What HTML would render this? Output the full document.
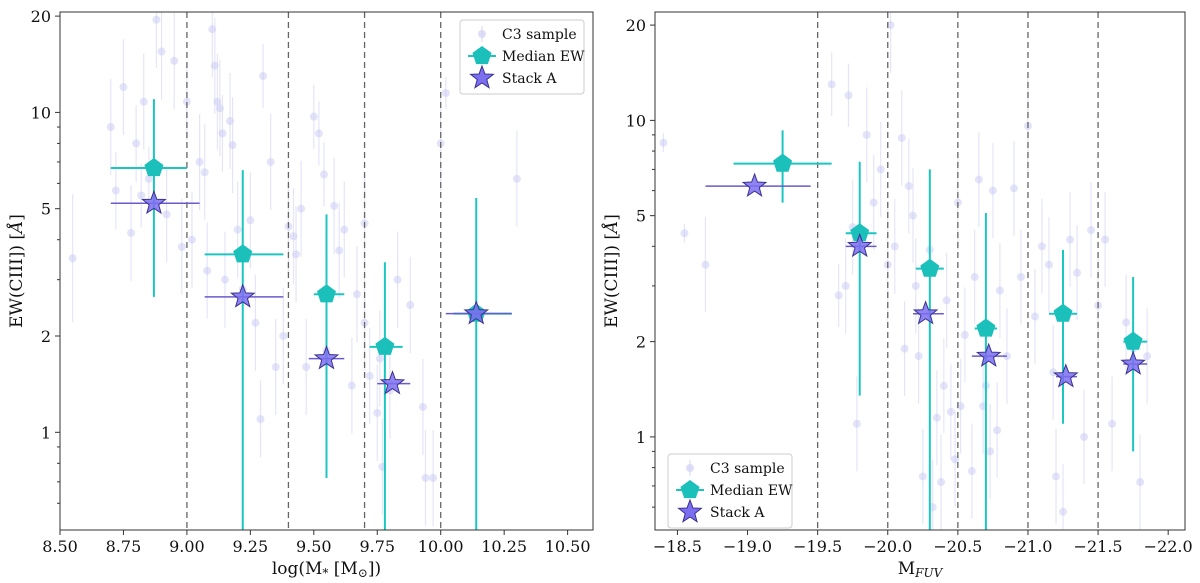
<!DOCTYPE html>
<html><head><meta charset="utf-8"><style>
body{margin:0;background:#fff;}
svg{display:block;font-family:"DejaVu Serif","Liberation Serif",serif;}
</style></head><body>
<svg id="chart" width="1200" height="583" viewBox="0 0 1200 583" xmlns="http://www.w3.org/2000/svg"></svg>
<script>
// ---- data ----
const leftSampleX=[8.55,8.7,8.72,8.75,8.78,8.8,8.82,8.83,8.85,8.88,8.9,8.92,8.95,8.98,9.0,9.02,9.05,9.07,9.08,9.1,9.11,9.12,9.13,9.14,9.15,9.17,9.18,9.2,9.22,9.25,9.27,9.29,9.3,9.33,9.35,9.38,9.4,9.42,9.43,9.45,9.47,9.5,9.52,9.54,9.55,9.58,9.6,9.62,9.65,9.67,9.7,9.7,9.72,9.75,9.76,9.77,9.8,9.83,9.88,9.93,9.94,9.97,10.0,10.02,10.3];
const leftSampleY=[3.5,9.0,5.7,12,4.2,8.0,5.5,10.8,6.2,19.5,15.5,4.8,14.5,3.8,10.8,4.0,7.0,6.5,3.2,18.2,14,10.8,10.3,8.6,3.0,9.4,7.9,4.3,2.8,4.6,2.2,1.1,13,7.0,1.6,2.0,4.4,4.1,3.6,5.0,1.6,9.7,8.6,6.4,1.8,5.1,3.7,4.3,1.4,2.7,2.2,4.5,1.5,1.15,1.7,0.78,1.35,3.0,2.5,1.2,0.72,0.72,8.0,11.5,6.2];
const leftSampleErr=[0.2,0.15,0.12,0.15,0.15,0.12,0.1,0.15,0.1,0.15,0.15,0.15,0.15,0.15,0.12,0.15,0.15,0.15,0.15,0.15,0.15,0.15,0.15,0.12,0.15,0.15,0.15,0.15,0.15,0.15,0.15,0.12,0.1,0.15,0.15,0.15,0.15,0.15,0.15,0.15,0.15,0.1,0.1,0.1,0.15,0.15,0.15,0.15,0.15,0.15,0.15,0.15,0.15,0.15,0.15,0.15,0.15,0.15,0.15,0.15,0.15,0.15,0.15,0.05,0.15];
const leftMedX=[8.87,9.22,9.55,9.78,10.14];
const leftMedY=[6.7,3.6,2.7,1.85,2.35];
const leftMedXLo=[8.7,9.07,9.5,9.72,10.05], leftMedXHi=[9.0,9.38,9.62,9.85,10.28];
const leftMedYLo=[2.65,0.3,0.72,0.3,0.3], leftMedYHi=[11,6.6,4.8,3.4,5.4];
const leftStkX=[8.87,9.22,9.55,9.81,10.14];
const leftStkY=[5.2,2.65,1.7,1.42,2.35];
const leftStkXLo=[8.7,9.07,9.48,9.75,10.02], leftStkXHi=[9.05,9.38,9.62,9.88,10.28];

const rightSampleX=[-18.4,-18.55,-18.7,-19.6,-19.65,-19.7,-19.72,-19.75,-19.78,-19.85,-19.9,-19.95,-20.0,-20.02,-20.05,-20.1,-20.12,-20.15,-20.18,-20.2,-20.22,-20.25,-20.3,-20.32,-20.35,-20.38,-20.4,-20.42,-20.45,-20.48,-20.5,-20.52,-20.55,-20.6,-20.62,-20.65,-20.68,-20.7,-20.73,-20.75,-20.78,-20.8,-20.85,-20.9,-20.95,-21.0,-21.05,-21.1,-21.15,-21.18,-21.2,-21.25,-21.3,-21.35,-21.4,-21.45,-21.5,-21.55,-21.6,-21.7,-21.75,-21.8,-21.85];
const rightSampleY=[8.5,4.4,3.5,13,2.8,3.0,12,4.6,1.1,9.0,5.5,7.0,3.5,20,4.0,8.8,1.9,6.2,5.0,3.0,1.8,0.75,3.9,0.6,1.15,0.72,1.45,2.7,1.2,0.85,5.5,1.25,2.1,0.78,3.2,6.5,1.25,1.45,0.9,6.0,1.05,2.9,1.8,6.1,3.2,9.6,2.4,4.0,3.5,1.6,0.75,0.58,4.2,3.3,1.0,4.5,2.6,4.2,1.1,2.3,1.9,0.72,1.8];
const rightSampleErr=[0.03,0.03,0.15,0.1,0.1,0.15,0.1,0.15,0.15,0.15,0.15,0.15,0.2,0.15,0.15,0.15,0.15,0.15,0.15,0.15,0.15,0.15,0.15,0.15,0.15,0.15,0.15,0.15,0.15,0.15,0.15,0.15,0.15,0.15,0.15,0.15,0.15,0.15,0.15,0.15,0.15,0.15,0.15,0.15,0.15,0.15,0.15,0.15,0.15,0.15,0.15,0.15,0.15,0.15,0.15,0.15,0.15,0.15,0.15,0.15,0.15,0.15,0.15];
const rightMedX=[-19.25,-19.8,-20.3,-20.7,-21.25,-21.75];
const rightMedY=[7.3,4.4,3.4,2.2,2.45,2.0];
const rightMedXLo=[-18.9,-19.7,-20.2,-20.62,-21.15,-21.68], rightMedXHi=[-19.6,-19.92,-20.4,-20.78,-21.35,-21.85];
const rightMedYLo=[5.5,1.35,0.3,0.3,1.1,0.9], rightMedYHi=[9.3,7.4,7.0,5.1,3.9,3.2];
const rightStkX=[-19.05,-19.8,-20.27,-20.72,-21.27,-21.75];
const rightStkY=[6.2,4.0,2.45,1.8,1.55,1.7];
const rightStkXLo=[-18.7,-19.7,-20.18,-20.6,-21.2,-21.68], rightStkXHi=[-19.45,-19.92,-20.4,-20.85,-21.35,-21.85];

const leftXTicks=[8.5,8.75,9.0,9.25,9.5,9.75,10.0,10.25,10.5];
const leftXTickLabels=["8.50","8.75","9.00","9.25","9.50","9.75","10.00","10.25","10.50"];
const rightXTicks=[-18.5,-19,-19.5,-20,-20.5,-21,-21.5,-22];
const rightXTickLabels=["\u221218.5","\u221219.0","\u221219.5","\u221220.0","\u221220.5","\u221221.0","\u221221.5","\u221222.0"];
const yTicks=[1,2,5,10,20];
const yTickLabels=["1","2","5","10","20"];
const yMinor=[0.6,0.7,0.8,0.9,3,4,6,7,8,9];
const leftVlines=[9.0,9.4,9.7,10.0];
const rightVlines=[-19.5,-20,-20.5,-21,-21.5];

const NS="http://www.w3.org/2000/svg";
const svg=document.getElementById('chart');
function mk(tag,attrs,parent){const e=document.createElementNS(NS,tag);for(const k in attrs)e.setAttribute(k,attrs[k]);(parent||svg).appendChild(e);return e;}

function panel(cfg){
  const g=mk('g',{});
  
  
  const X=v=>cfg.x0+(v-cfg.xmin)/(cfg.xmax-cfg.xmin)*(cfg.x1-cfg.x0);
  const Y=v=>cfg.yb-(Math.log10(v)-Math.log10(cfg.ymin))/(Math.log10(cfg.ymax)-Math.log10(cfg.ymin))*(cfg.yb-cfg.yt);
  const cy=v=>Math.max(cfg.yt,Math.min(cfg.yb,Y(v)));
  cfg.sx.forEach((x,i)=>{
    const y=cfg.sy[i],e=cfg.se[i];
    const l=mk('line',{x1:X(x),x2:X(x),y1:cy(y*Math.pow(10,e)),y2:cy(y/Math.pow(10,e)),stroke:'#d4d4f4','stroke-width':1.2,opacity:0.6},g);
    
    
    if(Y(y)>=cfg.yt&&Y(y)<=cfg.yb){
      const c=mk('circle',{cx:X(x),cy:Y(y),r:4,fill:'#c8c8f4',opacity:0.5},g);
      
      
    }
  });
  cfg.vl.forEach(v=>{
    const l=mk('line',{x1:X(v),x2:X(v),y1:cfg.yt,y2:cfg.yb,stroke:'#666','stroke-width':1.3,'stroke-dasharray':'6,4'},g);
    
    
  });
  cfg.mx.forEach((x,i)=>{
    const y=cfg.my[i];
    const a=mk('line',{x1:X(cfg.mxl[i]),x2:X(cfg.mxh[i]),y1:Y(y),y2:Y(y),stroke:'#1cc6c0','stroke-width':2},g);
    
    
    const b=mk('line',{x1:X(x),x2:X(x),y1:cy(cfg.myh[i]),y2:cy(cfg.myl[i]),stroke:'#1cc6c0','stroke-width':2},g);
    
    
    const px=X(x),py=Y(y),r=10;let pts=[];
    for(let k=0;k<5;k++){const t=-Math.PI/2+k*2*Math.PI/5;pts.push((px+r*Math.cos(t)).toFixed(1)+','+(py+r*Math.sin(t)).toFixed(1));}
    const p=mk('polygon',{points:pts.join(' '),fill:'#1cc0bb'},g);
    
    
  });
  cfg.kx.forEach((x,i)=>{
    const y=cfg.ky[i];
    const a=mk('line',{x1:X(cfg.kxl[i]),x2:X(cfg.kxh[i]),y1:Y(y),y2:Y(y),stroke:'#6a5acd','stroke-width':1.5},g);
    
    
    const px=X(x),py=Y(y);let pts=[];
    for(let k=0;k<10;k++){const t=-Math.PI/2+k*Math.PI/5;const r=k%2?5:12;pts.push((px+r*Math.cos(t)).toFixed(1)+','+(py+r*Math.sin(t)).toFixed(1));}
    const p=mk('polygon',{points:pts.join(' '),fill:'#7b6ff0','fill-opacity':0.85,stroke:'#3a3290','stroke-width':1},g);
    
    
  });
  const f=mk('rect',{x:cfg.x0,y:cfg.yt,width:cfg.x1-cfg.x0,height:cfg.yb-cfg.yt,fill:'none',stroke:'#333','stroke-width':1},g);
  
  
  cfg.xt.forEach((v,i)=>{
    mk('line',{x1:X(v),x2:X(v),y1:cfg.yb,y2:cfg.yb+5,stroke:'#333'},g);
    const t=mk('text',{x:X(v),y:cfg.yb+22,'text-anchor':'middle','font-size':16,fill:'#111'},g);
    t.textContent=cfg.xtl[i];
    
    
  });
  yTicks.forEach((v,i)=>{
    if(Y(v)<cfg.yt-1)return;
    mk('line',{x1:cfg.x0-5,x2:cfg.x0,y1:Y(v),y2:Y(v),stroke:'#333'},g);
    const t=mk('text',{x:cfg.x0-9,y:Y(v)+6,'text-anchor':'end','font-size':16,fill:'#111'},g);
    t.textContent=yTickLabels[i];
    
    
  });
  yMinor.forEach(v=>{if(Y(v)>cfg.yt&&Y(v)<cfg.yb)mk('line',{x1:cfg.x0-3,x2:cfg.x0,y1:Y(v),y2:Y(v),stroke:'#333'},g);});
  const xt=mk('text',{x:(cfg.x0+cfg.x1)/2,y:cfg.yb+44,'text-anchor':'middle','font-size':17,fill:'#111'},g);
  xt.innerHTML=cfg.xtitle;
  
  
  const yt=mk('text',{x:0,y:0,'text-anchor':'middle','font-size':17,fill:'#111',transform:`translate(${cfg.x0-38},${(cfg.yt+cfg.yb)/2}) rotate(-90)`},g);
  yt.innerHTML='EW(CIII]) [<tspan font-style="italic">Å</tspan>]';
  
  
  const L=cfg.leg;
  const lg=mk('g',{},g);
  
  
  mk('rect',{x:L.x,y:L.y,width:124,height:74,rx:3,fill:'#fff',stroke:'#ccc'},lg);
  const labs=['C3 sample','Median EW','Stack A'];
  labs.forEach((s,i)=>{
    const yy=L.y+14+i*22, mx=L.x+22;
    if(i==0){mk('circle',{cx:mx,cy:yy,r:4,fill:'#c8c8f4',opacity:0.6},lg);mk('line',{x1:mx,x2:mx,y1:yy-8,y2:yy+8,stroke:'#d4d4f4'},lg);}
    if(i==1){mk('line',{x1:mx-14,x2:mx+14,y1:yy,y2:yy,stroke:'#1cc6c0','stroke-width':2},lg);let pts=[];for(let k=0;k<5;k++){const t=-Math.PI/2+k*2*Math.PI/5;pts.push((mx+10*Math.cos(t))+','+(yy+10*Math.sin(t)));}mk('polygon',{points:pts.join(' '),fill:'#1cc0bb'},lg);}
    if(i==2){let pts=[];for(let k=0;k<10;k++){const t=-Math.PI/2+k*Math.PI/5;const r=k%2?5:12;pts.push((mx+r*Math.cos(t))+','+(yy+r*Math.sin(t)));}mk('polygon',{points:pts.join(' '),fill:'#7b6ff0',stroke:'#3a3290'},lg);}
    const t=mk('text',{x:L.x+42,y:yy+5,'font-size':14,fill:'#111'},lg);
    t.textContent=s;
    
    
  });
}
panel({name:'left-panel',x0:60,x1:593,yt:12,yb:530,xmin:8.5,xmax:10.6,ymin:0.495,ymax:20.6,
  sx:leftSampleX,sy:leftSampleY,se:leftSampleErr,vl:leftVlines,
  mx:leftMedX,my:leftMedY,mxl:leftMedXLo,mxh:leftMedXHi,myl:leftMedYLo,myh:leftMedYHi,
  kx:leftStkX,ky:leftStkY,kxl:leftStkXLo,kxh:leftStkXHi,
  xt:leftXTicks,xtl:leftXTickLabels,xtitle:'log(M<tspan font-size="12" dy="3">*</tspan><tspan dy="-3"> [M</tspan><tspan font-size="12" dy="3">⊙</tspan><tspan dy="-3">])</tspan>',
  leg:{x:460,y:20}});
panel({name:'right-panel',x0:655,x1:1185,yt:12,yb:530,xmin:-18.34,xmax:-22.12,ymin:0.508,ymax:22,
  sx:rightSampleX,sy:rightSampleY,se:rightSampleErr,vl:rightVlines,
  mx:rightMedX,my:rightMedY,mxl:rightMedXLo,mxh:rightMedXHi,myl:rightMedYLo,myh:rightMedYHi,
  kx:rightStkX,ky:rightStkY,kxl:rightStkXLo,kxh:rightStkXHi,
  xt:rightXTicks,xtl:rightXTickLabels,xtitle:'M<tspan font-size="12" dy="3" font-style="italic">FUV</tspan>',
  leg:{x:668,y:454}});
</script>
</body></html>
